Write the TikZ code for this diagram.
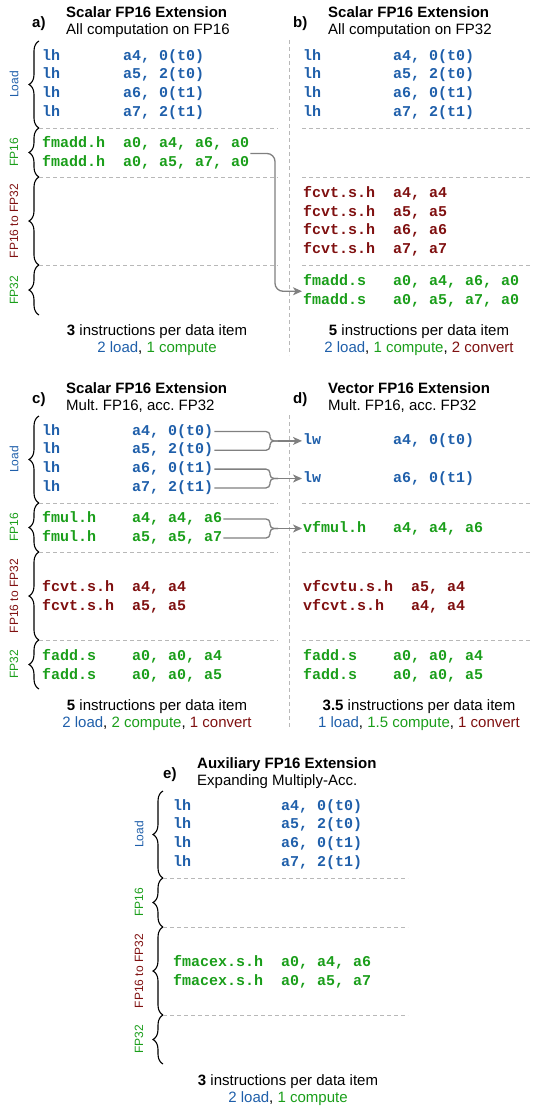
\documentclass[tikz,border=0pt]{standalone}
\usepackage{fontspec}
\setmainfont{Liberation Sans}
\newfontfamily\codefont{Liberation Mono}
\usetikzlibrary{decorations.pathreplacing,calc,arrows.meta}
\frenchspacing

\definecolor{ldblue}{HTML}{1F5FAA}
\definecolor{cpgreen}{HTML}{1A9E1A}
\definecolor{cvred}{HTML}{7F1010}
\definecolor{sepgray}{HTML}{B8B8B8}
\definecolor{linkgray}{HTML}{808080}

\tikzset{
  code/.style={font=\codefont\bfseries\fontsize{15}{18}\selectfont, anchor=west,
    inner xsep=1pt, inner ysep=0pt, text height=10pt, text depth=3pt},
  ldc/.style={code, text=ldblue},
  fpc/.style={code, text=cpgreen},
  cvc/.style={code, text=cvred},
  plabel/.style={font=\bfseries\fontsize{15}{18}\selectfont, anchor=base west, inner sep=0pt},
  ttl/.style={font=\bfseries\fontsize{15}{18}\selectfont, anchor=base west, inner sep=0pt},
  subttl/.style={font=\fontsize{15}{18}\selectfont, anchor=base west, inner sep=0pt},
  sidelbl/.style={font=\fontsize{12}{14}\selectfont, rotate=90, inner sep=0pt},
  divline/.style={draw=sepgray, line width=0.8pt, dash pattern=on 4pt off 3pt},
  grp/.style={draw, line width=1.1pt, decorate, decoration={brace, amplitude=10pt}},
  link/.style={draw=linkgray, line width=1.3pt, rounded corners=4pt},
  arr/.style={-{Stealth[length=9pt,width=8pt,inset=2.5pt]}},
  summary/.style={font=\fontsize{15}{18}\selectfont, inner sep=0pt},
}

\begin{document}
\begin{tikzpicture}[x=1pt,y=-1pt]
\useasboundingbox (0,0) rectangle (533,1108);

% ---------- column dividers ----------
\draw[divline] (289,40) -- (289,355);
\draw[divline] (289,415) -- (289,727);

% ================= a) =================
\node[plabel] (la) at (32,28) {a)};
\node[ttl] (ta) at (66,18) {Scalar FP16 Extension};
\node[subttl] (sa) at (66,35) {All computation on FP16};
\draw[grp] (39,128) -- (39,41);
\draw[grp] (39,177) -- (39,128);
\draw[grp] (39,265) -- (39,177);
\draw[grp] (39,315) -- (39,265);
\node[sidelbl, text=ldblue] (ga1) at (14,84.5) {Load};
\node[sidelbl, text=cpgreen] (ga2) at (14,152.5) {FP16};
\node[sidelbl, text=cvred] (ga3) at (14,221) {FP16 to FP32};
\node[sidelbl, text=cpgreen] (ga4) at (14,290) {FP32};
\draw[divline] (39,128) -- (278,128);
\draw[divline] (39,177) -- (278,177);
\draw[divline] (39,265) -- (278,265);
\node[ldc] (aL1) at (41,56.5) {lh~~~~~~~a4,~0(t0)};
\node[ldc] (aL2) at (41,75.3) {lh~~~~~~~a5,~2(t0)};
\node[ldc] (aL3) at (41,94.1) {lh~~~~~~~a6,~0(t1)};
\node[ldc] (aL4) at (41,112.9) {lh~~~~~~~a7,~2(t1)};
\node[fpc] (aF1) at (41,144) {fmadd.h~~a0,~a4,~a6,~a0};
\node[fpc] (aF2) at (41,163) {fmadd.h~~a0,~a5,~a7,~a0};
\node[summary] (na1) at (157,332) {\textbf{3} instructions per data item};
\node[summary] (na2) at (157,349) {{\color{ldblue}2 load}, {\color{cpgreen}1 compute}};

% ================= b) =================
\node[plabel] (lb) at (293,28) {b)};
\node[ttl] (tb) at (328,18) {Scalar FP16 Extension};
\node[subttl] (sb) at (328,35) {All computation on FP32};
\draw[divline] (302,128) -- (531,128);
\draw[divline] (302,177) -- (531,177);
\draw[divline] (302,265) -- (531,265);
\node[ldc] (bL1) at (302,56.5) {lh~~~~~~~~a4,~0(t0)};
\node[ldc] (bL2) at (302,75.3) {lh~~~~~~~~a5,~2(t0)};
\node[ldc] (bL3) at (302,94.1) {lh~~~~~~~~a6,~0(t1)};
\node[ldc] (bL4) at (302,112.9) {lh~~~~~~~~a7,~2(t1)};
\node[cvc] (bC1) at (302,194) {fcvt.s.h~~a4,~a4};
\node[cvc] (bC2) at (302,212.7) {fcvt.s.h~~a5,~a5};
\node[cvc] (bC3) at (302,231.4) {fcvt.s.h~~a6,~a6};
\node[cvc] (bC4) at (302,250) {fcvt.s.h~~a7,~a7};
\node[fpc] (bS1) at (302,282) {fmadd.s~~~a0,~a4,~a6,~a0};
\node[fpc] (bS2) at (302,300.5) {fmadd.s~~~a0,~a5,~a7,~a0};
\node[summary] (nb1) at (419,332) {\textbf{5} instructions per data item};
\node[summary] (nb2) at (419,349) {{\color{ldblue}2 load}, {\color{cpgreen}1 compute}, {\color{cvred}2 convert}};

% FP16 result handed over to the FP32 variant
\coordinate (s1) at ($(aF1.east)!.5!(aF2.east)$);
\coordinate (t1) at ($(bS1.west)!.5!(bS2.west)$);
\coordinate (v1) at (275,0);
\draw[link, arr, rounded corners=8pt] (s1) -- (s1 -| v1) -- (v1 |- t1) -- (t1);

% ================= c) =================
\node[plabel] (lc) at (32,403) {c)};
\node[ttl] (tc) at (66,393) {Scalar FP16 Extension};
\node[subttl] (sc) at (66,410) {Mult. FP16, acc. FP32};
\draw[grp] (39,503) -- (39,416);
\draw[grp] (39,552) -- (39,503);
\draw[grp] (39,640) -- (39,552);
\draw[grp] (39,689) -- (39,640);
\node[sidelbl, text=ldblue] (gc1) at (14,459.5) {Load};
\node[sidelbl, text=cpgreen] (gc2) at (14,527.5) {FP16};
\node[sidelbl, text=cvred] (gc3) at (14,596) {FP16 to FP32};
\node[sidelbl, text=cpgreen] (gc4) at (14,664.5) {FP32};
\draw[divline] (39,503) -- (278,503);
\draw[divline] (39,552) -- (278,552);
\draw[divline] (39,640) -- (278,640);
\node[ldc] (cL1) at (41,431.5) {lh~~~~~~~~a4,~0(t0)};
\node[ldc] (cL2) at (41,450.3) {lh~~~~~~~~a5,~2(t0)};
\node[ldc] (cL3) at (41,469.1) {lh~~~~~~~~a6,~0(t1)};
\node[ldc] (cL4) at (41,487.9) {lh~~~~~~~~a7,~2(t1)};
\node[fpc] (cM1) at (41,519) {fmul.h~~~~a4,~a4,~a6};
\node[fpc] (cM2) at (41,538) {fmul.h~~~~a5,~a5,~a7};
\node[cvc] (cC1) at (41,588) {fcvt.s.h~~a4,~a4};
\node[cvc] (cC2) at (41,606.5) {fcvt.s.h~~a5,~a5};
\node[fpc] (cA1) at (41,657) {fadd.s~~~~a0,~a0,~a4};
\node[fpc] (cA2) at (41,675.5) {fadd.s~~~~a0,~a0,~a5};
\node[summary] (nc1) at (157,707) {\textbf{5} instructions per data item};
\node[summary] (nc2) at (157,724) {{\color{ldblue}2 load}, {\color{cpgreen}2 compute}, {\color{cvred}1 convert}};

% ================= d) =================
\node[plabel] (ld) at (293,403) {d)};
\node[ttl] (td) at (328,393) {Vector FP16 Extension};
\node[subttl] (sd) at (328,410) {Mult. FP16, acc. FP32};
\draw[divline] (302,503) -- (531,503);
\draw[divline] (302,552) -- (531,552);
\draw[divline] (302,640) -- (531,640);
\node[ldc] (dL1) at (302,440.9) {lw~~~~~~~~a4,~0(t0)};
\node[ldc] (dL2) at (302,478.5) {lw~~~~~~~~a6,~0(t1)};
\node[fpc] (dM1) at (302,528.5) {vfmul.h~~~a4,~a4,~a6};
\node[cvc] (dC1) at (302,588) {vfcvtu.s.h~~a5,~a4};
\node[cvc] (dC2) at (302,606.5) {vfcvt.s.h~~~a4,~a4};
\node[fpc] (dA1) at (302,657) {fadd.s~~~~a0,~a0,~a4};
\node[fpc] (dA2) at (302,675.5) {fadd.s~~~~a0,~a0,~a5};
\node[summary] (nd1) at (419,707) {\textbf{3.5} instructions per data item};
\node[summary] (nd2) at (419,724) {{\color{ldblue}1 load}, {\color{cpgreen}1.5 compute}, {\color{cvred}1 convert}};

% paired scalar operations merged into one vector operation
\coordinate (b1) at ($(dL1.west)+(-32,0)$);
\coordinate (k1) at ($(dL1.west)+(-24,0)$);
\draw[link] (cL1.east) -- (cL1.east -| b1) -- (b1) -- (k1);
\draw[link] (cL2.east) -- (cL2.east -| b1) -- (b1) -- (k1);
\draw[link, arr] (k1) -- (dL1.west);

\coordinate (b2) at ($(dL2.west)+(-32,0)$);
\coordinate (k2) at ($(dL2.west)+(-24,0)$);
\draw[link] (cL3.east) -- (cL3.east -| b2) -- (b2) -- (k2);
\draw[link] (cL4.east) -- (cL4.east -| b2) -- (b2) -- (k2);
\draw[link, arr] (k2) -- (dL2.west);

\coordinate (b3) at ($(dM1.west)+(-32,0)$);
\coordinate (k3) at ($(dM1.west)+(-24,0)$);
\draw[link] (cM1.east) -- (cM1.east -| b3) -- (b3) -- (k3);
\draw[link] (cM2.east) -- (cM2.east -| b3) -- (b3) -- (k3);
\draw[link, arr] (k3) -- (dM1.west);

% ================= e) =================
\node[plabel] (le) at (163,778) {e)};
\node[ttl] (te) at (197,768) {Auxiliary FP16 Extension};
\node[subttl] (se) at (197,785) {Expanding Multiply-Acc.};
\draw[grp] (163,878) -- (163,791);
\draw[grp] (163,927) -- (163,878);
\draw[grp] (163,1015) -- (163,927);
\draw[grp] (163,1064) -- (163,1015);
\node[sidelbl, text=ldblue] (ge1) at (139,834.5) {Load};
\node[sidelbl, text=cpgreen] (ge2) at (139,902.5) {FP16};
\node[sidelbl, text=cvred] (ge3) at (139,971) {FP16 to FP32};
\node[sidelbl, text=cpgreen] (ge4) at (139,1039.5) {FP32};
\draw[divline] (163,878) -- (408,878);
\draw[divline] (163,927) -- (408,927);
\draw[divline] (163,1015) -- (408,1015);
\node[ldc] (eL1) at (172,806.5) {lh~~~~~~~~~~a4,~0(t0)};
\node[ldc] (eL2) at (172,825.3) {lh~~~~~~~~~~a5,~2(t0)};
\node[ldc] (eL3) at (172,844.1) {lh~~~~~~~~~~a6,~0(t1)};
\node[ldc] (eL4) at (172,862.9) {lh~~~~~~~~~~a7,~2(t1)};
\node[fpc] (eX1) at (172,963) {fmacex.s.h~~a0,~a4,~a6};
\node[fpc] (eX2) at (172,981.5) {fmacex.s.h~~a0,~a5,~a7};
\node[summary] (ne1) at (288,1082) {\textbf{3} instructions per data item};
\node[summary] (ne2) at (288,1099) {{\color{ldblue}2 load}, {\color{cpgreen}1 compute}};
\end{tikzpicture}
\end{document}
